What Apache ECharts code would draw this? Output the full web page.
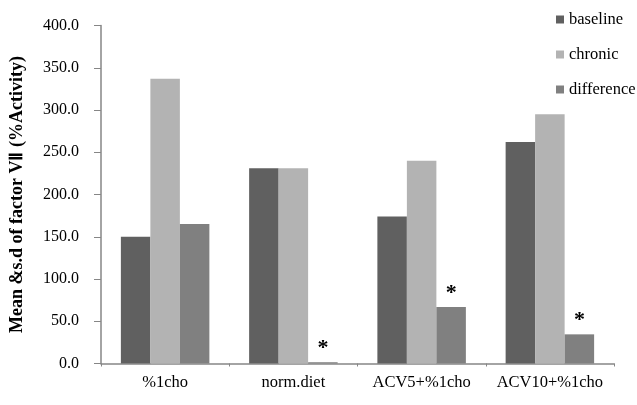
<!DOCTYPE html>
<html>
<head>
<meta charset="utf-8">
<script src="https://cdn.jsdelivr.net/npm/echarts@6/dist/echarts.min.js"></script>
<style>html,body{margin:0;padding:0;background:#fff}#c{width:637px;height:405px}</style>
</head>
<body>
<div id="c"></div>
<script>
const categories = ['%1cho', 'norm.diet', 'ACV5+%1cho', 'ACV10+%1cho'];
const baseline = [150, 231, 174, 262];
const chronic = [337, 231, 240, 295];
const difference = [165, 1.5, 67, 34.5];
const significant = [false, true, true, true];
const yTicks = { min: 0, max: 400, interval: 50 };

const font = 'Liberation Serif';
const chart = echarts.init(document.getElementById('c'), null, { renderer: 'canvas' });
chart.setOption({
  animation: false,
  backgroundColor: '#fff',
  grid: { left: 96, right: 23, top: 25.5, bottom: 41.5, containLabel: false },
  legend: {
    orient: 'vertical', left: 551, top: 6,
    itemWidth: 8, itemHeight: 8, icon: 'rect', itemGap: 18,
    textStyle: { fontFamily: font, fontSize: 16.5, color: '#000' },
    data: ['baseline', 'chronic', 'difference']
  },
  xAxis: {
    type: 'category', data: categories,
    axisLine: { lineStyle: { color: '#868686', width: 1.5 } },
    axisTick: { show: true, length: 3, lineStyle: { color: '#868686' } },
    axisLabel: { fontFamily: font, fontSize: 16.5, color: '#000', margin: 11, interval: 0 }
  },
  yAxis: {
    type: 'value', min: yTicks.min, max: yTicks.max, interval: yTicks.interval,
    name: 'Mean &s.d of factor VⅡ (%Activity)',
    nameLocation: 'middle', nameGap: 75,
    nameTextStyle: { fontFamily: font, fontSize: 18, fontWeight: 'bold', color: '#000' },
    axisLine: { show: true, lineStyle: { color: '#868686', width: 1.5 } },
    axisTick: { show: true, length: 7, lineStyle: { color: '#868686' } },
    axisLabel: { fontFamily: font, fontSize: 16, color: '#000', margin: 22,
      formatter: v => v.toFixed(1) },
    splitLine: { show: false }
  },
  series: [
    { name: 'baseline', type: 'bar', data: baseline, barGap: '0%', barWidth: 29.5,
      itemStyle: { color: '#606060' } },
    { name: 'chronic', type: 'bar', data: chronic, barGap: '0%', barWidth: 29.5,
      itemStyle: { color: '#b3b3b3' } },
    { name: 'difference', type: 'bar', data: difference, barGap: '0%', barWidth: 29.5,
      itemStyle: { color: '#808080' },
      label: { show: true, position: 'top', distance: 3,
        fontFamily: font, fontSize: 22, fontWeight: 'bold', color: '#000',
        formatter: p => significant[p.dataIndex] ? '*' : '' } }
  ]
});
</script>
</body>
</html>
